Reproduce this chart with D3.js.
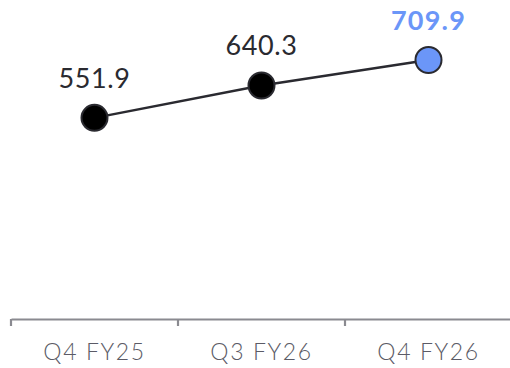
<!DOCTYPE html>
<html>
<head>
<meta charset="utf-8">
<script src="https://cdn.jsdelivr.net/npm/d3@7"></script>
<style>
  html, body { margin: 0; padding: 0; background: #fff; }
  svg { display: block; }
  text { font-family: "Lato", "Open Sans", sans-serif; }
</style>
</head>
<body>
<svg id="chart" width="510" height="368"></svg>
<script>
// Quarterly values
const quarters = ["Q4 FY25", "Q3 FY26", "Q4 FY26"];
const values = [551.9, 640.3, 709.9];
const highlightIndex = 2;

const width = 510, height = 368;
const axisY = 319;

const svg = d3.select("#chart");

const x = d3.scaleBand()
  .domain(quarters)
  .range([11, 512]);

const y = d3.scaleLinear()
  .domain([0, d3.max(values)])
  .range([axisY + 1, 60]);

const data = quarters.map((q, i) => ({ q, v: values[i], hi: i === highlightIndex }));
const cx = d => x(d.q) + x.bandwidth() / 2;

// Bottom axis
const axis = svg.append("g")
  .attr("transform", `translate(0,${axisY})`)
  .call(d3.axisBottom(x).tickSize(7).tickSizeOuter(0).tickPadding(18));
axis.select(".domain").attr("stroke", "#8a8a90").attr("stroke-width", 2.2);
axis.selectAll(".tick line")
  .attr("stroke", "#8a8a90").attr("stroke-width", 2.2)
  .attr("transform", `translate(${-x.bandwidth() / 2},0)`);
axis.selectAll(".tick text")
  .attr("fill", "#5b5b66")
  .attr("font-size", 23)
  .attr("font-weight", 300)
  .attr("letter-spacing", 1.6)
  .attr("dy", "0.71em");

// Connecting line
svg.append("path")
  .datum(data)
  .attr("fill", "none")
  .attr("stroke", "#2a2a30")
  .attr("stroke-width", 2.5)
  .attr("d", d3.line().x(cx).y(d => y(d.v)));

// Points
svg.selectAll("circle.pt")
  .data(data)
  .join("circle")
  .attr("class", "pt")
  .attr("cx", cx)
  .attr("cy", d => y(d.v))
  .attr("r", 13)
  .attr("fill", d => d.hi ? "#6b96f8" : "#000")
  .attr("stroke", "#2a2a30")
  .attr("stroke-width", 2);

// Value labels
svg.selectAll("text.val")
  .data(data)
  .join("text")
  .attr("class", "val")
  .attr("x", cx)
  .attr("y", d => y(d.v) - 30)
  .attr("text-anchor", "middle")
  .attr("font-size", 27)
  .attr("font-weight", d => d.hi ? 700 : 400)
  .attr("letter-spacing", d => d.hi ? 1.2 : 0.6)
  .attr("fill", d => d.hi ? "#6b96f8" : "#2a2a30")
  .text(d => d.v.toFixed(1));
</script>
</body>
</html>
